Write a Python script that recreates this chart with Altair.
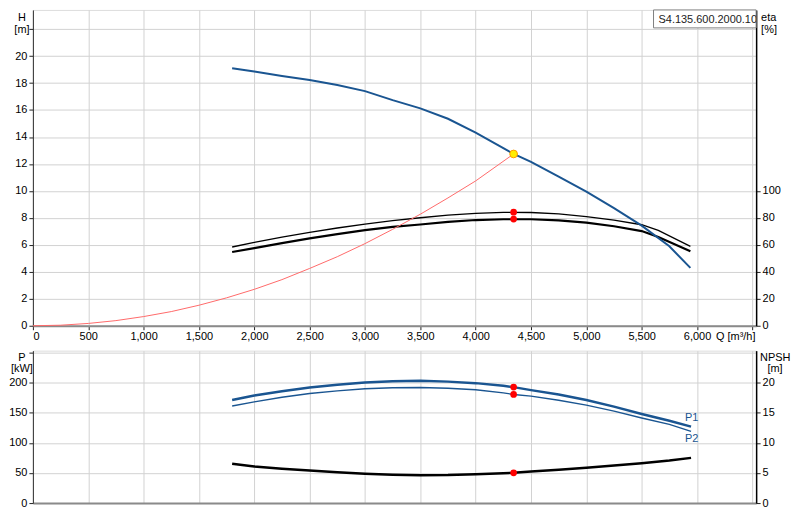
import altair as alt
import pandas as pd

# ---------------- data ----------------
Q_H = [1800, 2000, 2250, 2500, 2750, 3000, 3250, 3500, 3750, 4000, 4250, 4343,
       4500, 4750, 5000, 5250, 5500, 5750, 5940]
H = [19.09, 18.85, 18.52, 18.22, 17.85, 17.40, 16.73, 16.12, 15.35, 14.33, 13.17,
     12.74, 12.15, 11.06, 9.95, 8.72, 7.42, 5.89, 4.29]

Q_SYS = [0, 250, 500, 750, 1000, 1250, 1500, 1750, 2000, 2250, 2500, 2750, 3000,
         3250, 3500, 3750, 4000, 4343]
H_SYS = [0.0, 0.04, 0.17, 0.38, 0.68, 1.05, 1.52, 2.07, 2.70, 3.42, 4.25, 5.12,
         6.09, 7.15, 8.27, 9.48, 10.74, 12.74]

Q_ETA = [1800, 2000, 2250, 2500, 2750, 3000, 3250, 3500, 3750, 4000, 4250, 4500,
         4750, 5000, 5250, 5500, 5650, 5940]
ETA_UPPER = [58.4, 61.8, 65.8, 69.3, 72.5, 75.3, 77.9, 80.1, 82.0, 83.4, 84.1, 84.0,
             82.9, 81.0, 78.3, 74.9, 70.7, 58.9]
ETA_LOWER = [54.7, 57.6, 61.3, 64.8, 68.0, 70.9, 73.3, 75.1, 77.0, 78.4, 79.0, 79.0,
             78.1, 76.5, 73.8, 70.2, 65.8, 55.2]

Q_P = [1800, 2000, 2250, 2500, 2750, 3000, 3250, 3500, 3750, 4000, 4250, 4343,
       4500, 4750, 5000, 5250, 5500, 5750, 5946]
P1 = [170.9, 178.5, 185.5, 191.7, 196.5, 200.0, 202.0, 202.8, 201.5, 199.0, 194.5,
      192.4, 187.4, 180.0, 170.9, 160.0, 147.8, 136.5, 126.8]
P2 = [161.0, 168.0, 175.5, 181.8, 186.2, 189.6, 191.3, 191.7, 190.5, 188.0, 182.8,
      180.2, 177.5, 170.5, 162.6, 152.5, 141.2, 130.5, 119.0]
NPSH = [6.51, 6.07, 5.70, 5.40, 5.10, 4.86, 4.70, 4.63, 4.66, 4.80, 4.96, 5.02,
        5.24, 5.52, 5.85, 6.22, 6.61, 7.05, 7.50]

DUTY_Q = 4343
DUTY_H = 12.74
DUTY_ETA = [84.2, 79.1]
DUTY_P = [192.4, 180.2]
DUTY_NPSH = 5.02

P_LABEL_Q = [5891, 5891]
P_LABEL_P = [141.7, 107.0]
P_LABEL_TEXT = ["P1", "P2"]

PRODUCT = "S4.135.600.2000.10."

X_TICKS = list(range(0, 6501, 500))
H_TICKS = list(range(0, 23, 2))
ETA_TICKS = [0, 20, 40, 60, 80, 100]
P_TICKS = [0, 50, 100, 150, 200, 250]
NPSH_TICKS = [0, 5, 10, 15, 20]

# ---------------- styling ----------------
W = 726
H_TOP = 317
H_BOT = 153
X_MAX = 6534
BLUE = "#1a5591"
GRID = "#d2d2d2"
FONT = "Liberation Sans"
FS = 11

xscale = alt.Scale(domain=[0, X_MAX], nice=False, zero=False)
x_axis_top = alt.Axis(values=X_TICKS, format=",d", title=None, grid=True, gridColor=GRID,
                      labelExpr="datum.value > 6000 ? '' : datum.label",
                      tickSize=4, tickColor="#222", labelPadding=1,
                      domainColor="#8a8a8a", domainWidth=2, labelColor="#000",
                      labelFontSize=FS, labelFont=FONT)
x_axis_bot = alt.Axis(values=X_TICKS, title=None, grid=True, gridColor=GRID,
                      labels=False, ticks=False, domainColor="#8a8a8a", domainWidth=2)


def left_axis(vals, maxlab):
    return alt.Axis(values=vals, orient="left", title=None, grid=True, gridColor=GRID,
                    labelExpr=f"datum.value > {maxlab} ? '' : datum.label",
                    tickSize=4, tickColor="#222", labelPadding=2, domainColor="#333",
                    labelColor="#000", labelFontSize=FS, labelFont=FONT)


def right_axis(vals):
    return alt.Axis(values=vals, orient="right", title=None, grid=False,
                    tickSize=4, tickColor="#222", labelPadding=2, domainColor="#000",
                    domainWidth=1.5, labelColor="#000", labelFontSize=FS, labelFont=FONT)


def txt(s, x, y, align="center", color="#000", clip=False):
    return alt.Chart(pd.DataFrame({"t": [s]})).mark_text(
        align=align, baseline="top", font=FONT, fontSize=FS, color=color, clip=clip
    ).encode(text="t:N", x=alt.value(x), y=alt.value(y))


# ---------------- top chart ----------------
xt = alt.X("Q:Q", scale=xscale, axis=x_axis_top)
h_scale = alt.Scale(domain=[0, 23.42], nice=False, zero=False)
eta_scale = alt.Scale(domain=[0, 234.2], nice=False, zero=False)
h_ax = left_axis(H_TICKS, 20)
eta_ax = right_axis(ETA_TICKS)

df_h = pd.DataFrame({"Q": Q_H, "H": H})
df_sys = pd.DataFrame({"Q": Q_SYS, "H": H_SYS})
df_eta = pd.DataFrame({"Q": Q_ETA, "up": ETA_UPPER, "lo": ETA_LOWER})
df_duty = pd.DataFrame({"Q": [DUTY_Q], "H": [DUTY_H]})
df_duty_eta = pd.DataFrame({"Q": [DUTY_Q] * len(DUTY_ETA), "eta": DUTY_ETA})

eta_group = alt.layer(
    alt.Chart(df_eta).mark_line(color="#000", strokeWidth=1.3).encode(
        x=xt, y=alt.Y("up:Q", scale=eta_scale, axis=eta_ax)),
    alt.Chart(df_eta).mark_line(color="#000", strokeWidth=2.2).encode(
        x=xt, y=alt.Y("lo:Q", scale=eta_scale, axis=eta_ax)),
    alt.Chart(df_duty_eta).mark_circle(color="#ff0000", size=45, opacity=1).encode(
        x=xt, y=alt.Y("eta:Q", scale=eta_scale, axis=eta_ax)),
)

h_group = alt.layer(
    alt.Chart(df_sys).mark_line(color="#ff6a6a", strokeWidth=1).encode(
        x=xt, y=alt.Y("H:Q", scale=h_scale, axis=h_ax)),
    alt.Chart(df_h).mark_line(color=BLUE, strokeWidth=2).encode(
        x=xt, y=alt.Y("H:Q", scale=h_scale, axis=h_ax)),
    alt.Chart(df_duty).mark_circle(color="#ffee00", stroke="#ff9900", strokeWidth=1,
                                   size=60, opacity=1).encode(
        x=xt, y=alt.Y("H:Q", scale=h_scale, axis=h_ax)),
)

box = alt.Chart(pd.DataFrame({"a": [0]})).mark_rect(
    fill="#ffffff", stroke="#808080", strokeWidth=1
).encode(x=alt.value(W - 103), x2=alt.value(W), y=alt.value(0), y2=alt.value(18))

q_title_x = 6000 * W / X_MAX + 19

top = alt.layer(
    eta_group, h_group, box,
    txt(PRODUCT, W - 98, 4, align="left", color="#222", clip=True),
    txt("H", -11, 2), txt("[m]", -11, 14),
    txt("eta", W + 5, 2, align="left"), txt("[%]", W + 5, 14, align="left"),
    txt("Q [m³/h]", q_title_x, H_TOP + 5, align="left"),
).resolve_scale(y="independent").properties(width=W, height=H_TOP)

# ---------------- bottom chart ----------------
xb = alt.X("Q:Q", scale=xscale, axis=x_axis_bot)
p_scale = alt.Scale(domain=[0, 252.9], nice=False, zero=False)
n_scale = alt.Scale(domain=[0, 25.29], nice=False, zero=False)
p_ax = left_axis(P_TICKS, 200)
n_ax = right_axis(NPSH_TICKS)

df_p = pd.DataFrame({"Q": Q_P, "P1": P1, "P2": P2, "NPSH": NPSH})
df_duty_p = pd.DataFrame({"Q": [DUTY_Q] * len(DUTY_P), "P": DUTY_P})
df_duty_n = pd.DataFrame({"Q": [DUTY_Q], "NPSH": [DUTY_NPSH]})
df_plab = pd.DataFrame({"Q": P_LABEL_Q, "P": P_LABEL_P, "t": P_LABEL_TEXT})

n_group = alt.layer(
    alt.Chart(df_p).mark_line(color="#000", strokeWidth=2.5).encode(
        x=xb, y=alt.Y("NPSH:Q", scale=n_scale, axis=n_ax)),
    alt.Chart(df_duty_n).mark_circle(color="#ff0000", size=45, opacity=1).encode(
        x=xb, y=alt.Y("NPSH:Q", scale=n_scale, axis=n_ax)),
)

p_group = alt.layer(
    alt.Chart(df_p).mark_line(color=BLUE, strokeWidth=2.5).encode(
        x=xb, y=alt.Y("P1:Q", scale=p_scale, axis=p_ax)),
    alt.Chart(df_p).mark_line(color=BLUE, strokeWidth=1.4).encode(
        x=xb, y=alt.Y("P2:Q", scale=p_scale, axis=p_ax)),
    alt.Chart(df_duty_p).mark_circle(color="#ff0000", size=45, opacity=1).encode(
        x=xb, y=alt.Y("P:Q", scale=p_scale, axis=p_ax)),
    alt.Chart(df_plab).mark_text(align="left", baseline="middle", font=FONT,
                                 fontSize=FS, color=BLUE).encode(
        x=xb, y=alt.Y("P:Q", scale=p_scale, axis=p_ax), text="t:N"),
)

bottom = alt.layer(
    n_group, p_group,
    txt("P", -11, 1), txt("[kW]", -11, 12),
    txt("NPSH", W + 4, 1, align="left"), txt("[m]", W + 19, 12),
).resolve_scale(y="independent").properties(width=W, height=H_BOT)

chart = alt.vconcat(top, bottom, spacing=7).properties(
    padding={"left": 0, "top": 0, "right": 0, "bottom": 0}
).configure_view(stroke="#a0a0a0").configure(background="#ffffff")

chart.save("out.html", embed_options={"renderer": "svg", "actions": False})
